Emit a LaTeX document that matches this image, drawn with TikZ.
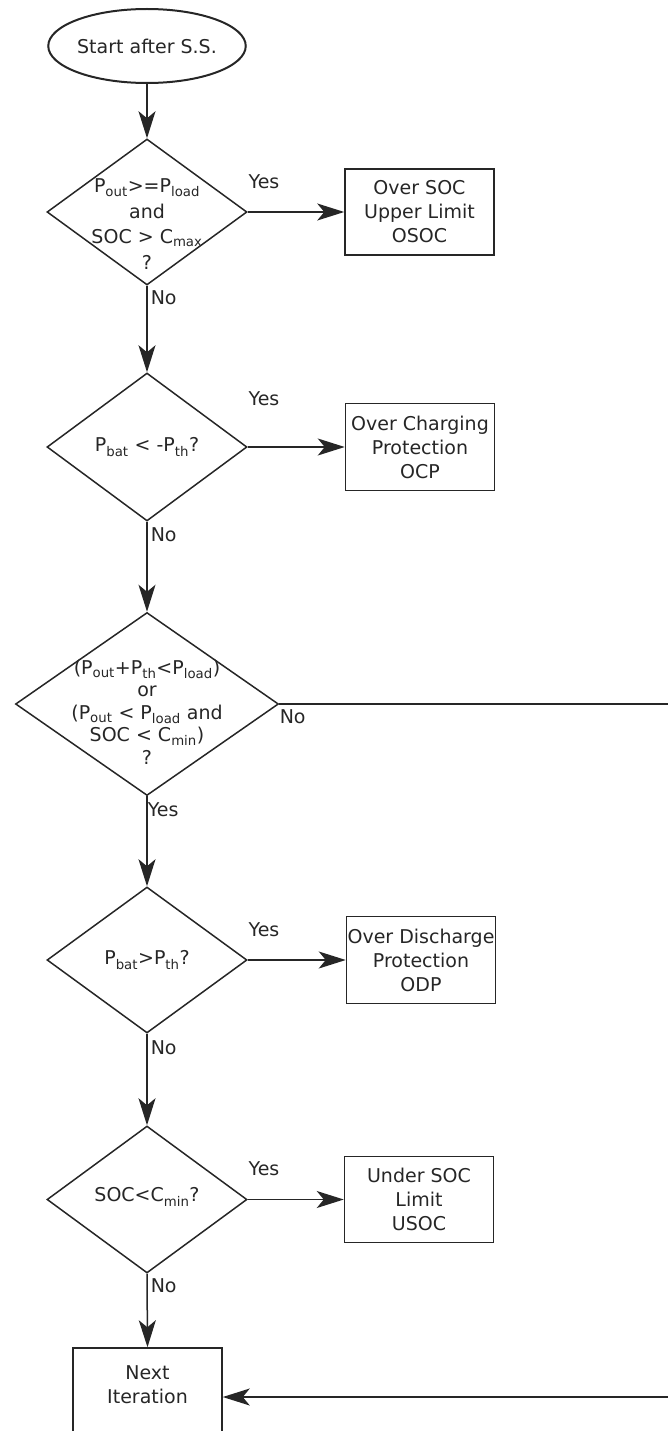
\documentclass[tikz,border=0pt]{standalone}
\usepackage{fontspec}
\setmainfont{DejaVu Sans}
\usetikzlibrary{shapes.geometric,arrows.meta}
\tikzstyle{start} = [ellipse, draw, line width=2pt, minimum width=189pt, minimum height=74pt, inner sep=0pt]
\tikzstyle{decision} = [diamond, draw, inner sep=0pt]
\tikzstyle{block} = [rectangle, draw, minimum width=149pt, minimum height=86pt, align=center, inner sep=0pt]
\tikzstyle{answer} = [anchor=north west, inner sep=1pt]

\begin{document}
\begin{tikzpicture}[x=1pt,y=-1pt,line width=1.5pt,color=black!85]
			\tikzset{every node/.style={font=\fontsize{19}{24}\selectfont},
				flow/.style={-{Stealth[length=27pt,width=17pt,inset=7pt]}}}
\useasboundingbox (0,0) rectangle (668,1431);
\clip (0,0) rectangle (668,1431);

\node[start] (st) at (147,46) {Start after S.S.};

\node[decision, minimum width=200pt, minimum height=146pt] (d1) at (147,212) {};
\node[align=center, font=\fontsize{19}{25.5}\selectfont] (t1) at (147,224) {P\textsubscript{out}>=P\textsubscript{load}\\and\\SOC > C\textsubscript{max}\\?};
\node[block] (b1) at (419.5,212) {Over SOC\\Upper Limit\\OSOC};

\node[decision, minimum width=200pt, minimum height=148pt] (d2) at (147,447) {};
\node (t2) at (147,447) {P\textsubscript{bat} < -P\textsubscript{th}?};
\node[block, minimum height=87pt] (b2) at (420,447) {Over Charging\\Protection\\OCP};

\node[decision, minimum width=263pt, minimum height=183pt] (d3) at (147,704) {};
\node[align=center, font=\fontsize{19}{22.5}\selectfont] (t3) at (147,712) {(P\textsubscript{out}+P\textsubscript{th}<P\textsubscript{load})\\or\\(P\textsubscript{out} < P\textsubscript{load} and\\SOC < C\textsubscript{min})\\?};

\node[decision, minimum width=200pt, minimum height=146pt] (d4) at (147,960) {};
\node (t4) at (147,960) {P\textsubscript{bat}>P\textsubscript{th}?};
\node[block, minimum height=87pt] (b4) at (421,960) {Over Discharge\\Protection\\ODP};

\node[decision, minimum width=200pt, minimum height=147pt] (d5) at (147,1199.5) {};
\node (t5) at (147,1197) {SOC<C\textsubscript{min}?};
\node[block] (b5) at (419,1199.5) {Under SOC\\Limit\\USOC};

\node[block] (nx) at (147.5,1391) {Next\\Iteration\\[-12pt]};

\node (y1) at (264,182) {Yes};
\node (y2) at (264,399) {Yes};
\node (y4) at (264,930) {Yes};
\node (y5) at (264,1169) {Yes};
\node[answer] (y3) at (146,801) {Yes};
\node[answer] (n1) at (149,289) {No};
\node[answer] (n2) at (149,526) {No};
\node[answer] (n3) at (278,708) {No};
\node[answer] (n4) at (149,1039) {No};
\node[answer] (n5) at (149,1277) {No};

\foreach \from/\to in {st/d1,d1/d2,d2/d3,d3/d4,d4/d5,d5/nx}
{
	\draw[flow] (\from.south) -- (\to.north);
}
\foreach \from/\to in {d1/b1,d2/b2,d4/b4,d5/b5}
{
	\draw[flow] (\from.east) -- (\to.west);
}

\coordinate (r1) at (700,704);
\coordinate (r2) at (700,1397);
\draw[flow] (d3.east) -- (r1) -- (r2) -- (nx.east |- r2);

		\end{tikzpicture}
\end{document}
